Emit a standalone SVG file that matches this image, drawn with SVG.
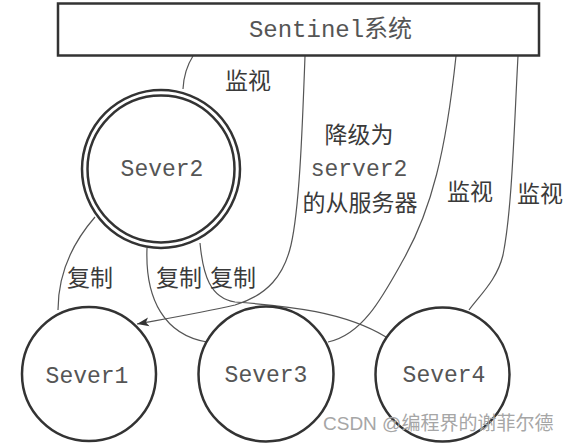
<svg xmlns="http://www.w3.org/2000/svg" width="569" height="443" viewBox="0 0 569 443">
<style>
.node{fill:#fff;stroke:#333;stroke-width:2.5}
.mono{font-family:"Liberation Mono","Noto Sans CJK SC",monospace;font-size:23px;fill:#555;text-anchor:middle}
.cjk{font-family:"Noto Sans CJK SC",sans-serif;font-size:23px;fill:#3a3a3a;text-anchor:middle}
.conn{fill:none;stroke:#555;stroke-width:1.2}
.wm{font-family:"Liberation Sans","Noto Sans CJK SC",sans-serif;font-size:19px;fill:#a6a6a6}
</style>
<defs>
<marker id="arr" markerUnits="userSpaceOnUse" markerWidth="14" markerHeight="12" refX="12" refY="0" viewBox="0 -6 14 12" orient="auto">
<path d="M0,-4.5 L12,0 L0,4.5 L3,0 Z" fill="#333"/>
</marker>
</defs>
<rect width="569" height="443" fill="#fff"/>
<g id="connectors">
<path class="conn" d="M193,56 Q184,70 183,89"/>
<path class="conn" d="M305,56 C302,140 299,210 291,245 C284,275 268,295 235,305 C200,313 170,318 137,324" marker-end="url(#arr)"/>
<path class="conn" d="M456,56 C446,150 432,210 402,262 C382,298 362,335 328,342"/>
<path class="conn" d="M518,56 C514,130 512,210 503,255 C497,280 480,295 469,310"/>
<path class="conn" d="M95,217 C75,240 58,270 58,310"/>
<path class="conn" d="M147,248 C145,300 165,335 207,342"/>
<path class="conn" d="M200,243 C203,275 210,298 235,302 C290,306 345,312 386,337"/>
</g>
<g id="sentinel">
<rect class="node" x="58" y="3.5" width="481" height="52"/>
<text class="mono" x="330.5" y="37" style="font-size:24px">Sentinel系统</text>
</g>
<g id="sever2">
<circle class="node" cx="161" cy="169" r="79"/>
<circle class="node" cx="161" cy="169" r="73.5"/>
<text class="mono" x="162" y="176">Sever2</text>
</g>
<g id="sever1">
<circle class="node" cx="89" cy="374" r="67"/>
<text class="mono" x="87" y="383">Sever1</text>
</g>
<g id="sever3">
<circle class="node" cx="266" cy="374" r="67.5"/>
<text class="mono" x="266" y="382">Sever3</text>
</g>
<g id="sever4">
<circle class="node" cx="442.5" cy="374.5" r="67"/>
<text class="mono" x="444" y="382">Sever4</text>
</g>
<g id="labels">
<text class="cjk" x="248" y="89">监视</text>
<text class="cjk" x="359" y="143">降级为</text>
<text class="mono" x="359" y="176">server2</text>
<text class="cjk" x="360" y="211">的从服务器</text>
<text class="cjk" x="470" y="200">监视</text>
<text class="cjk" x="540" y="202">监视</text>
<text class="cjk" x="90" y="286">复制</text>
<text class="cjk" x="179" y="286">复制</text>
<text class="cjk" x="233" y="286">复制</text>
</g>
<text class="wm" x="323" y="430">CSDN @编程界的谢菲尔德</text>
</svg>
